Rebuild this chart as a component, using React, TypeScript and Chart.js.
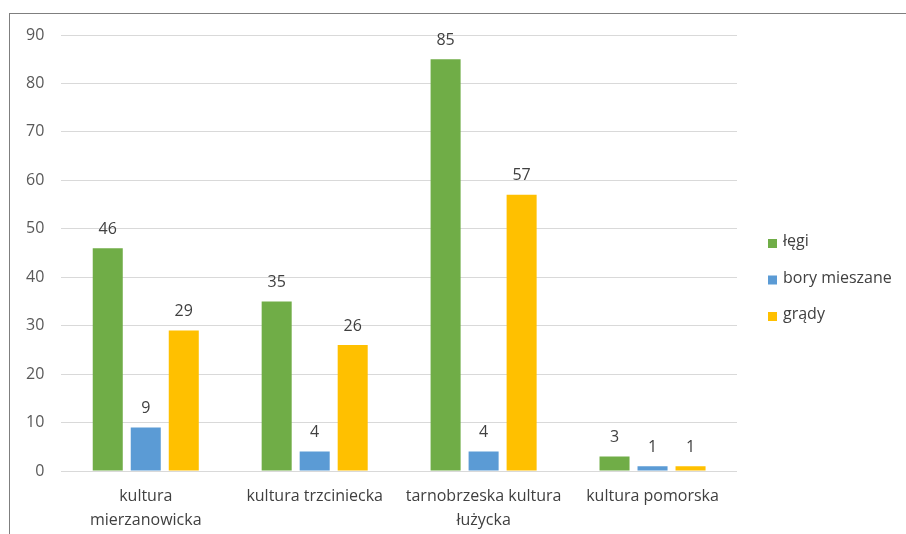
import React, { useEffect, useRef } from "react";
import { Chart, registerables } from "chart.js";
Chart.register(...registerables);

const categories: (string | string[])[] = [
  ["kultura", "mierzanowicka"],
  "kultura trzciniecka",
  ["tarnobrzeska kultura", "łużycka"],
  "kultura pomorska",
];
const legi = [46, 35, 85, 3];
const boryMieszane = [9, 4, 4, 1];
const grady = [29, 26, 57, 1];
const seriesNames = ["łęgi", "bory mieszane", "grądy"];
const colors = ["#70AD47", "#5B9BD5", "#FFC000"];

const FONT = "'Open Sans', sans-serif";

const valueLabels = {
  id: "valueLabels",
  afterDatasetsDraw(chart: any) {
    const ctx = chart.ctx;
    ctx.save();
    ctx.font = `16px ${FONT}`;
    ctx.fillStyle = "#404040";
    ctx.textAlign = "center";
    ctx.textBaseline = "middle";
    chart.data.datasets.forEach((ds: any, i: number) => {
      const meta = chart.getDatasetMeta(i);
      meta.data.forEach((bar: any, j: number) => {
        ctx.fillText(String(ds.data[j]), bar.x, bar.y - 19);
      });
    });
    ctx.restore();
  },
};

const sideLegend = {
  id: "sideLegend",
  afterDraw(chart: any) {
    const ctx = chart.ctx;
    const area = chart.chartArea;
    const x = area.right + 31;
    const cy = (area.top + area.bottom) / 2 + 26;
    const step = 36.5;
    ctx.save();
    ctx.font = `16px ${FONT}`;
    ctx.textAlign = "left";
    ctx.textBaseline = "middle";
    chart.data.datasets.forEach((ds: any, i: number) => {
      const y = cy + (i - 1) * step;
      ctx.fillStyle = ds.backgroundColor;
      ctx.fillRect(x, y - 3.5, 9, 9);
      ctx.fillStyle = "#404040";
      ctx.fillText(ds.label, x + 15, y - 1);
    });
    ctx.restore();
  },
};

export default function App() {
  const ref = useRef<HTMLCanvasElement>(null);
  useEffect(() => {
    const values = [legi, boryMieszane, grady];
    const chart = new Chart(ref.current!, {
      type: "bar",
      data: {
        labels: categories,
        datasets: values.map((v, i) => ({
          label: seriesNames[i],
          data: v,
          backgroundColor: colors[i],
          categoryPercentage: 0.675,
          barPercentage: 0.79,
        })),
      },
      options: {
        animation: false,
        responsive: false,
        maintainAspectRatio: false,
        layout: { padding: { left: 9, top: 35, right: 169, bottom: 3 } },
        plugins: {
          tooltip: { enabled: false },
          legend: { display: false },
        },
        scales: {
          x: {
            grid: { display: false },
            border: { display: false },
            ticks: {
              color: "#404040",
              font: { family: FONT, size: 16, lineHeight: 1.5 },
              padding: 5,
              maxRotation: 0,
              autoSkip: false,
            },
          },
          y: {
            min: 0,
            max: 90,
            ticks: {
              stepSize: 10,
              color: "#595959",
              font: { family: FONT, size: 16 },
              padding: 17,
            },
            grid: { color: "#D9D9D9", drawTicks: false },
            border: { display: false },
          },
        },
      },
      plugins: [valueLabels, sideLegend],
    });
    return () => chart.destroy();
  }, []);
  return (
    <div style={{ position: "fixed", left: 0, top: 0, width: 906, height: 534, background: "#fff", overflow: "hidden" }}>
      <div
        style={{
          position: "absolute",
          left: 9,
          top: 13,
          right: -5,
          bottom: -5,
          borderLeft: "1.5px solid #7f7f7f",
          borderTop: "1.5px solid #7f7f7f",
        }}
      />
      <canvas ref={ref} width={906} height={540} style={{ position: "absolute", left: 0, top: 0 }} />
    </div>
  );
}
